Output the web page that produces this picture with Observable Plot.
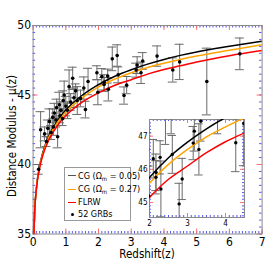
<!DOCTYPE html>
<html><head><meta charset="utf-8">
<script src="https://cdn.jsdelivr.net/npm/d3@7"></script>
<script src="https://cdn.jsdelivr.net/npm/@observablehq/plot@0.6"></script>
<style>
body{margin:0;background:#fff;}
#wrap{position:relative;width:277px;height:277px;overflow:hidden;font-family:"Liberation Sans Narrow","DejaVu Sans Condensed",Arial,sans-serif;color:#000;}
#wrap svg{position:absolute;overflow:visible;}
.lbl{position:absolute;white-space:nowrap;font-size:11.5px;line-height:12px;}
#legend{position:absolute;left:64px;top:167px;width:65px;height:52px;border:1px solid #999;background:#fff;font-size:9px;}
#legend .row{position:absolute;left:13px;white-space:nowrap;line-height:10px;}
#legend .sw{position:absolute;left:3px;width:8px;height:0;border-top:1.6px solid;}
#legend .dot{position:absolute;left:5.5px;width:3px;height:3px;border-radius:50%;background:#000;}
#legend sub{font-size:6px;vertical-align:-2px;}
</style></head><body><div id="wrap"></div>
<script>
// model curves
const curveZ   = [0.02,0.05,0.1,0.2,0.3,0.5,0.75,1,1.5,2,2.5,3,3.5,4,4.5,5,6,7];
const muCG005  = [34.7,36.72,38.28,39.9,40.88,42.15,43.18,43.92,44.98,45.75,46.35,46.82,47.22,47.56,47.85,48.1,48.5,48.87];
const muCG027  = [34.69,36.7,38.25,39.85,40.8,42.05,43.05,43.78,44.8,45.58,46.15,46.6,46.98,47.28,47.55,47.8,48.22,48.62];
const muFLRW   = [34.68,36.68,38.21,39.76,40.68,41.86,42.82,43.5,44.48,45.15,45.7,46.1,46.5,46.83,47.1,47.38,47.83,48.2];
// 52 GRBs
const grbZ   = [0.17,0.23,0.35,0.41,0.45,0.5,0.55,0.6,0.62,0.65,0.7,0.72,0.75,0.8,0.82,0.85,0.9,0.92,0.95,1.0,1.05,1.1,1.15,1.21,1.25,1.3,1.35,1.45,1.55,1.6,1.68,1.95,1.98,2.10,2.17,2.17,2.28,2.30,2.42,2.57,2.60,2.78,2.86,3.15,3.18,3.30,3.35,3.79,4.27,4.48,5.31,6.32];
const grbMu  = [39.65,42.5,42.2,41.65,42.6,43.1,42.3,43.4,42.7,43.7,43.2,44.1,42.0,44.3,43.5,43.9,43.3,44.6,45.0,44.2,43.9,45.6,44.5,46.2,44.8,45.3,44.6,44.75,45.5,43.95,45.97,46.6,45.2,46.32,45.91,45.76,46.36,45.41,47.6,47.84,46.45,44.96,45.71,46.79,47.15,46.6,47.45,47.8,46.8,47.38,45.97,47.96];
const grbErr = [0.35,1.3,0.5,0.35,0.6,0.9,0.5,0.6,0.6,0.7,0.5,0.6,0.8,0.9,0.5,0.6,0.5,0.7,1.0,0.7,0.6,1.2,0.6,0.8,0.7,0.5,1.0,0.6,0.8,0.6,0.95,0.5,0.9,0.58,0.55,0.5,0.5,0.84,0.85,0.77,0.57,0.62,0.62,0.5,0.6,0.77,0.6,0.73,0.87,1.27,2.4,1.14];
// ticks
const xTicks = [0,1,2,3,4,5,6,7];
const yTicks = [35,40,45,50];
const insetXTicks = [2,3,4];
const insetYTicks = [45,46,47];
const legendLabels = ["CG (Ω<sub>m</sub> = 0.05)","CG (Ω<sub>m</sub> = 0.27)","FLRW","52 GRBs"];

const colors = {cg005:"#000000", cg027:"#FFA500", flrw:"#FF0000"};
const curves = [];
curveZ.forEach((z,i)=>{
  curves.push({z, mu:muCG005[i], m:"cg005"});
  curves.push({z, mu:muCG027[i], m:"cg027"});
  curves.push({z, mu:muFLRW[i], m:"flrw"});
});
const grbs = grbZ.map((z,i)=>({z, mu:grbMu[i], err:grbErr[i]}));

const wrap = document.getElementById("wrap");
const font = '"Liberation Sans Narrow","DejaVu Sans Condensed",Arial,sans-serif';

function panel({width,height,mL,mR,mT,mB,xd,yd,xt,yt,xMinorStep,yMinorStep,fs,majLen,minLen,cap,dotR}) {
  const pw = width-mL-mR, ph = height-mT-mB;
  const capX = cap*(xd[1]-xd[0])/pw;
  const xMinor = d3.range(Math.round(xd[0]/xMinorStep), Math.round(xd[1]/xMinorStep)+1).map(k=>+(k*xMinorStep).toFixed(3));
  const yMinor = d3.range(Math.ceil(yd[0]/yMinorStep), Math.floor(yd[1]/yMinorStep)+1).map(k=>+(k*yMinorStep).toFixed(3));
  const minorC = "#5555ee", majorC = "#ff7070";
  return Plot.plot({
    width, height, marginLeft:mL, marginRight:mR, marginTop:mT, marginBottom:mB,
    style:{fontFamily:font, fontSize:fs+"px", color:"#000", background:"transparent", overflow:"visible"},
    x:{domain:xd, ticks:xt, tickFormat:d=>String(d), label:null},
    y:{domain:yd, ticks:yt, tickFormat:d=>String(d), label:null},
    color:{type:"identity"},
    marks:[
      Plot.frame({fill:"#fff", stroke:"none"}),
      // minor ticks
      Plot.tickX(xMinor,{x:d=>d, stroke:minorC, insetTop:ph-minLen}),
      Plot.tickX(xMinor,{x:d=>d, stroke:minorC, insetBottom:ph-minLen}),
      Plot.tickY(yMinor,{y:d=>d, stroke:minorC, insetRight:pw-minLen}),
      Plot.tickY(yMinor,{y:d=>d, stroke:minorC, insetLeft:pw-minLen}),
      // major ticks
      Plot.tickX(xt,{x:d=>d, stroke:majorC, insetTop:ph-majLen}),
      Plot.tickX(xt,{x:d=>d, stroke:majorC, insetBottom:ph-majLen}),
      Plot.tickY(yt,{y:d=>d, stroke:majorC, insetRight:pw-majLen}),
      Plot.tickY(yt,{y:d=>d, stroke:majorC, insetLeft:pw-majLen}),
      Plot.frame({stroke:"#8a8a8a"}),
      Plot.axisX(xt,{tickSize:0, tickPadding:3, fontSize:fs}),
      Plot.axisY(yt,{tickSize:0, tickPadding:2, fontSize:fs}),
      // error bars
      Plot.ruleX(grbs,{x:"z", y1:d=>d.mu-d.err, y2:d=>d.mu+d.err, stroke:"#6a6a6a", strokeWidth:1, clip:true}),
      Plot.ruleY(grbs,{y:d=>d.mu+d.err, x1:d=>d.z-capX, x2:d=>d.z+capX, stroke:"#6a6a6a", clip:true}),
      Plot.ruleY(grbs,{y:d=>d.mu-d.err, x1:d=>d.z-capX, x2:d=>d.z+capX, stroke:"#6a6a6a", clip:true}),
      // model curves
      Plot.line(curves,{x:"z", y:"mu", z:"m", stroke:d=>colors[d.m], strokeWidth:1.5, curve:"monotone-x", clip:true}),
      Plot.dot(grbs,{x:"z", y:"mu", r:dotR, fill:"#000", stroke:"none", clip:true})
    ]
  });
}

const main = panel({width:277,height:277,mL:32.6,mR:15.4,mT:25,mB:43.5,xd:[0,7],yd:[35,50],xt:xTicks,yt:yTicks,
  xMinorStep:0.1,yMinorStep:0.5,fs:12,majLen:5,minLen:2.5,cap:4.5,dotR:1.8});
main.style.left="0px"; main.style.top="0px";
wrap.appendChild(main);

const inset = panel({width:114,height:114,mL:17,mR:2,mT:2,mB:14,xd:[2,4.5],yd:[44.55,47.5],xt:insetXTicks,yt:insetYTicks,
  xMinorStep:0.1,yMinorStep:0.1,fs:8,majLen:4,minLen:2,cap:4.2,dotR:1.7});
inset.style.left="132.4px"; inset.style.top="117px";
wrap.appendChild(inset);

// axis titles
const xl = document.createElement("div");
xl.className="lbl"; xl.textContent="Redshift(z)";
xl.style.left="147px"; xl.style.top="248px"; xl.style.transform="translateX(-50%)";
wrap.appendChild(xl);
const yl = document.createElement("div");
yl.className="lbl"; yl.textContent="Distance Modulus - μ(z)";
yl.style.left="12px"; yl.style.top="136px"; yl.style.transform="translate(-50%,-50%) rotate(-90deg)";
wrap.appendChild(yl);

// legend
const lg = document.createElement("div"); lg.id="legend";
const swColors = ["#555","#FFA500","#FF0000",null];
const rowY = [8,21.5,34.5,46];
legendLabels.forEach((t,i)=>{
  if (swColors[i]) {
    const s=document.createElement("div"); s.className="sw"; s.style.borderTopColor=swColors[i]; s.style.top=(rowY[i]-0.8)+"px"; lg.appendChild(s);
  } else {
    const s=document.createElement("div"); s.className="dot"; s.style.top=(rowY[i]-1.5)+"px"; lg.appendChild(s);
  }
  const r=document.createElement("div"); r.className="row"; r.innerHTML=t; r.style.top=(rowY[i]-5.5)+"px"; lg.appendChild(r);
});
wrap.appendChild(lg);
</script></body></html>
